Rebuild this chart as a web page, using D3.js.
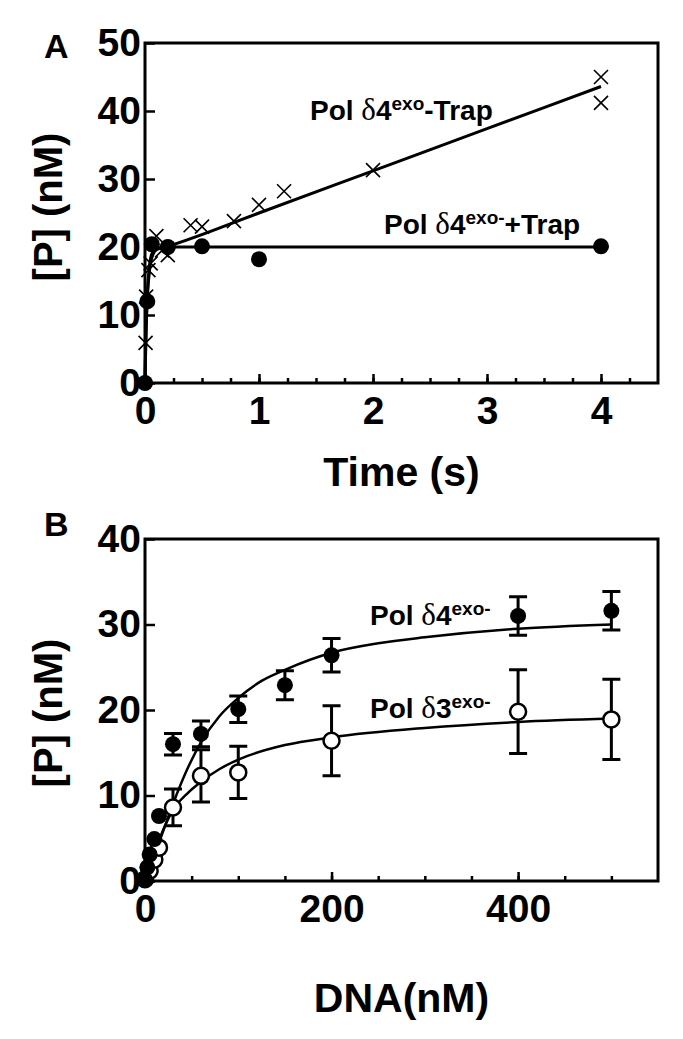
<!DOCTYPE html>
<html>
<head>
<meta charset="utf-8">
<script src="https://cdn.jsdelivr.net/npm/d3@7"></script>
<style>
    body { margin: 0; background: #fff; }
    text { font-family: "Liberation Sans", Arial, sans-serif; font-weight: bold; fill: #000; }
    .sym { font-family: "Liberation Serif", "Times New Roman", serif; font-weight: normal; }
</style>
</head>
<body>
<div id="chart"></div>
<script>
// panel A: product vs time, with and without trap
var trapTime = [0, 0.02, 0.06, 0.2, 0.5, 1, 4],
    trapP = [0, 12, 20.4, 20, 20.1, 18.2, 20.1];
var noTrapTime = [0.005, 0.01, 0.03, 0.05, 0.1, 0.15, 0.2, 0.4, 0.5, 0.78, 1, 1.22, 2, 4, 4],
    noTrapP = [5.9, 12.7, 16.6, 17.6, 21.6, 19.5, 18.8, 23.2, 23, 23.8, 26.2, 28.2, 31.3, 45, 41.2];
// fitted curves
var trapFitT = [0, 0.005, 0.01, 0.02, 0.04, 0.06, 0.1, 0.2, 4],
    trapFitP = [0, 4.5, 8.2, 12.8, 17.4, 19, 19.8, 20, 20];
var noTrapFitT = [0, 0.005, 0.01, 0.02, 0.04, 0.07, 0.1, 0.2, 1, 2, 3, 4],
    noTrapFitP = [0, 4.4, 8, 12.4, 16.6, 18.9, 19.6, 20.1, 25, 31.2, 37.4, 43.6];

// panel B: product vs DNA concentration
var dna4 = [0, 2.5, 5, 10, 15, 30, 60, 100, 150, 200, 400, 500],
    p4 = [0.2, 1.6, 3.1, 4.9, 7.6, 16, 17.2, 20.1, 22.9, 26.4, 31, 31.6],
    err4 = [0, 0, 0, 0, 0, 1.25, 1.5, 1.55, 1.7, 1.95, 2.25, 2.25];
var dna3 = [0, 5, 10, 15, 30, 60, 100, 200, 400, 500],
    p3 = [0.2, 1.2, 2.5, 3.9, 8.6, 12.3, 12.7, 16.4, 19.8, 18.9],
    err3 = [0, 0, 0, 0, 2.15, 3.05, 3.05, 4.1, 4.9, 4.7];
var fit4D = [0, 10, 20, 30, 45, 60, 80, 100, 125, 150, 200, 250, 300, 400, 500],
    fit4P = [0, 3, 6, 9, 13, 16.2, 19.3, 21.4, 23.4, 24.7, 26.7, 27.8, 28.5, 29.5, 30];
var fit3D = [0, 10, 20, 30, 45, 60, 80, 100, 150, 200, 300, 400, 500],
    fit3P = [0, 3.2, 6.1, 8.3, 10.2, 11.6, 13.1, 14.2, 15.9, 16.8, 17.9, 18.6, 19];

var tickA_x = [0, 1, 2, 3, 4], tickA_y = [0, 10, 20, 30, 40, 50];
var tickB_x = [0, 200, 400], tickB_y = [0, 10, 20, 30, 40];

var svg = d3.select("#chart").append("svg")
    .attr("width", 683)
    .attr("height", 1039);

svg.append("rect").attr("width", 683).attr("height", 1039).attr("fill", "#fff");

function zip(a, b) {
    return a.map(function (d, i) { return [d, b[i]]; });
}

function drawFrame(x, y, xt, xMinor, yt, xLabel, yTitleY, xTitleY, panel, panelY) {
    var x0 = x.range()[0], x1 = x.range()[1], y0 = y.range()[0], y1 = y.range()[1];

    svg.append("g")
        .attr("transform", "translate(0," + y0 + ")")
        .call(d3.axisBottom(x).tickValues(xMinor).tickFormat("").tickSize(-5))
        .call(function (g) { g.select(".domain").remove(); })
        .selectAll("line").attr("stroke-width", 2.5);

    var gx = svg.append("g")
        .attr("transform", "translate(0," + y0 + ")")
        .call(d3.axisBottom(x).tickValues(xt).tickFormat(d3.format("d")).tickSize(-9).tickPadding(13));
    gx.select(".domain").remove();
    gx.selectAll("line").attr("stroke-width", 2.5);
    gx.selectAll("text").attr("font-size", 39).attr("font-family", null);

    var gy = svg.append("g")
        .attr("transform", "translate(" + x0 + ",0)")
        .call(d3.axisLeft(y).tickValues(yt).tickFormat(d3.format("d")).tickSize(-10).tickPadding(4));
    gy.select(".domain").remove();
    gy.selectAll("line").attr("stroke-width", 2.5);
    gy.selectAll("text").attr("font-size", 39).attr("font-family", null);

    svg.append("rect")
        .attr("x", x0).attr("y", y1)
        .attr("width", x1 - x0).attr("height", y0 - y1)
        .attr("fill", "none")
        .attr("stroke", "black")
        .attr("stroke-width", 3);

    svg.append("text")
        .attr("transform", "translate(62," + yTitleY + ") rotate(-90)")
        .attr("text-anchor", "middle")
        .attr("font-size", 40)
        .text("[P] (nM)");

    svg.append("text")
        .attr("x", (x0 + x1) / 2)
        .attr("y", xTitleY)
        .attr("text-anchor", "middle")
        .attr("font-size", 41)
        .text(xLabel);

    svg.append("text")
        .attr("x", 44)
        .attr("y", panelY)
        .attr("font-size", 34)
        .text(panel);
}

function label(x, y, num, sup, tail) {
    var t = svg.append("text").attr("x", x).attr("y", y).attr("font-size", 28);
    t.append("tspan").text("Pol ");
    t.append("tspan").attr("class", "sym").attr("font-size", 31).text("\u03b4");
    t.append("tspan").text(num);
    t.append("tspan").attr("font-size", 19).attr("dy", -10).text(sup);
    if (tail) t.append("tspan").attr("dy", 10).text(tail);
}

var line = d3.line().curve(d3.curveMonotoneX);

// ---- panel A ----
var xA = d3.scaleLinear().domain([0, 4.5]).range([145, 658]),
    yA = d3.scaleLinear().domain([0, 50]).range([383, 43]);

drawFrame(xA, yA, tickA_x, d3.range(0, 4.5, 0.25), tickA_y, "Time (s)", 207, 486, "A", 58);

svg.append("path")
    .datum(zip(trapFitT, trapFitP))
    .attr("fill", "none").attr("stroke", "black").attr("stroke-width", 3)
    .attr("d", line.x(function (d) { return xA(d[0]); }).y(function (d) { return yA(d[1]); }));

svg.append("path")
    .datum(zip(noTrapFitT, noTrapFitP))
    .attr("fill", "none").attr("stroke", "black").attr("stroke-width", 3)
    .attr("d", line.x(function (d) { return xA(d[0]); }).y(function (d) { return yA(d[1]); }));

svg.selectAll(".cross")
    .data(zip(noTrapTime, noTrapP))
    .enter().append("path")
    .attr("class", "cross")
    .attr("transform", function (d) { return "translate(" + xA(d[0]) + "," + yA(d[1]) + ")"; })
    .attr("d", "M-7,-7L7,7M-7,7L7,-7")
    .attr("stroke", "black")
    .attr("stroke-width", 1.6)
    .attr("fill", "none");

svg.selectAll(".dotA")
    .data(zip(trapTime, trapP))
    .enter().append("circle")
    .attr("class", "dotA")
    .attr("cx", function (d) { return xA(d[0]); })
    .attr("cy", function (d) { return yA(d[1]); })
    .attr("r", 8)
    .attr("fill", "black");

label(310, 120, "4", "exo", "-Trap");
label(384, 234, "4", "exo-", "+Trap");

// ---- panel B ----
var xB = d3.scaleLinear().domain([0, 550]).range([145, 658]),
    yB = d3.scaleLinear().domain([0, 40]).range([881, 539]);

drawFrame(xB, yB, tickB_x, d3.range(0, 550, 50), tickB_y, "DNA(nM)", 713, 1012, "B", 536);

[[fit4D, fit4P], [fit3D, fit3P]].forEach(function (f) {
    svg.append("path")
        .datum(zip(f[0], f[1]))
        .attr("fill", "none").attr("stroke", "black").attr("stroke-width", 2.5)
        .attr("d", line.x(function (d) { return xB(d[0]); }).y(function (d) { return yB(d[1]); }));
});

function errorBars(xs, ys, es) {
    var g = svg.append("g").attr("stroke", "black").attr("stroke-width", 3).attr("fill", "none");
    xs.forEach(function (d, i) {
        if (!es[i]) return;
        var cx = xB(d), top = yB(ys[i] + es[i]), bot = yB(ys[i] - es[i]);
        g.append("path")
            .attr("d", "M" + cx + "," + top + "V" + bot +
                "M" + (cx - 9) + "," + top + "H" + (cx + 9) +
                "M" + (cx - 9) + "," + bot + "H" + (cx + 9));
    });
}
errorBars(dna4, p4, err4);
errorBars(dna3, p3, err3);

svg.selectAll(".open")
    .data(zip(dna3, p3))
    .enter().append("circle")
    .attr("class", "open")
    .attr("cx", function (d) { return xB(d[0]); })
    .attr("cy", function (d) { return yB(d[1]); })
    .attr("r", 8)
    .attr("fill", "white")
    .attr("stroke", "black")
    .attr("stroke-width", 2.5);

svg.selectAll(".filled")
    .data(zip(dna4, p4))
    .enter().append("circle")
    .attr("class", "filled")
    .attr("cx", function (d) { return xB(d[0]); })
    .attr("cy", function (d) { return yB(d[1]); })
    .attr("r", 8)
    .attr("fill", "black");

label(370, 625, "4", "exo-");
label(370, 718, "3", "exo-");
</script>
</body>
</html>
